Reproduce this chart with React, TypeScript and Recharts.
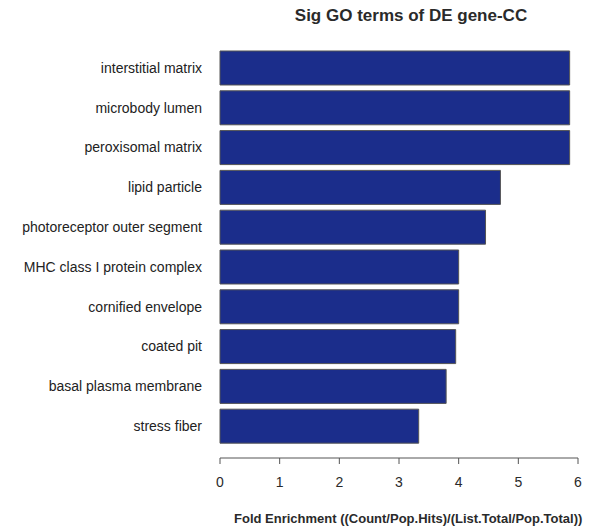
import { BarChart, Bar, XAxis, YAxis } from 'recharts'

// GO cellular-component terms, top to bottom
const terms = [
  'interstitial matrix',
  'microbody lumen',
  'peroxisomal matrix',
  'lipid particle',
  'photoreceptor outer segment',
  'MHC class I protein complex',
  'cornified envelope',
  'coated pit',
  'basal plasma membrane',
  'stress fiber',
]

const foldEnrichment = [5.86, 5.86, 5.86, 4.7, 4.45, 4.0, 4.0, 3.95, 3.79, 3.33]

const xTicks = [0, 1, 2, 3, 4, 5, 6]

const chartData = terms.map((term, i) => ({
  term,
  fold: foldEnrichment[i],
}))

const FONT = 'Arial, "Liberation Sans", Helvetica, sans-serif'

export default function App() {
  return (
    <div style={{ position: 'absolute', left: 0, top: 0, width: 599, height: 530, background: '#fff', fontFamily: FONT }}>
      <div
        style={{
          position: 'absolute',
          left: 0,
          width: 822,
          top: 6,
          textAlign: 'center',
          fontSize: 17,
          fontWeight: 'bold',
          color: '#2a2a2a',
        }}
      >
        Sig GO terms of DE gene-CC
      </div>
      <BarChart
        width={599}
        height={530}
        data={chartData}
        layout="vertical"
        margin={{ top: 48, right: 21, left: 0, bottom: 42 }}
        barCategoryGap="7.5%"
      >
        <XAxis
          type="number"
          domain={[0, 6]}
          ticks={xTicks}
          interval={0}
          height={30}
          stroke="#555"
          tickSize={6}
          tickMargin={13}
          tick={{ fill: '#2a2a2a', fontSize: 14, fontFamily: FONT }}
        />
        <YAxis
          type="category"
          dataKey="term"
          width={220}
          axisLine={false}
          tickLine={false}
          tickSize={0}
          tickMargin={18}
          padding={{ top: 0, bottom: 12 }}
          interval={0}
          tick={{ fill: '#222', fontSize: 14, fontFamily: FONT }}
        />
        <Bar dataKey="fold" fill="#1b2d8b" stroke="#555" strokeWidth={1} isAnimationActive={false} />
      </BarChart>
      <div
        style={{
          position: 'absolute',
          left: 234,
          top: 511,
          fontSize: 13,
          fontWeight: 'bold',
          color: '#2a2a2a',
          whiteSpace: 'nowrap',
        }}
      >
        Fold Enrichment ((Count/Pop.Hits)/(List.Total/Pop.Total))
      </div>
    </div>
  )
}
